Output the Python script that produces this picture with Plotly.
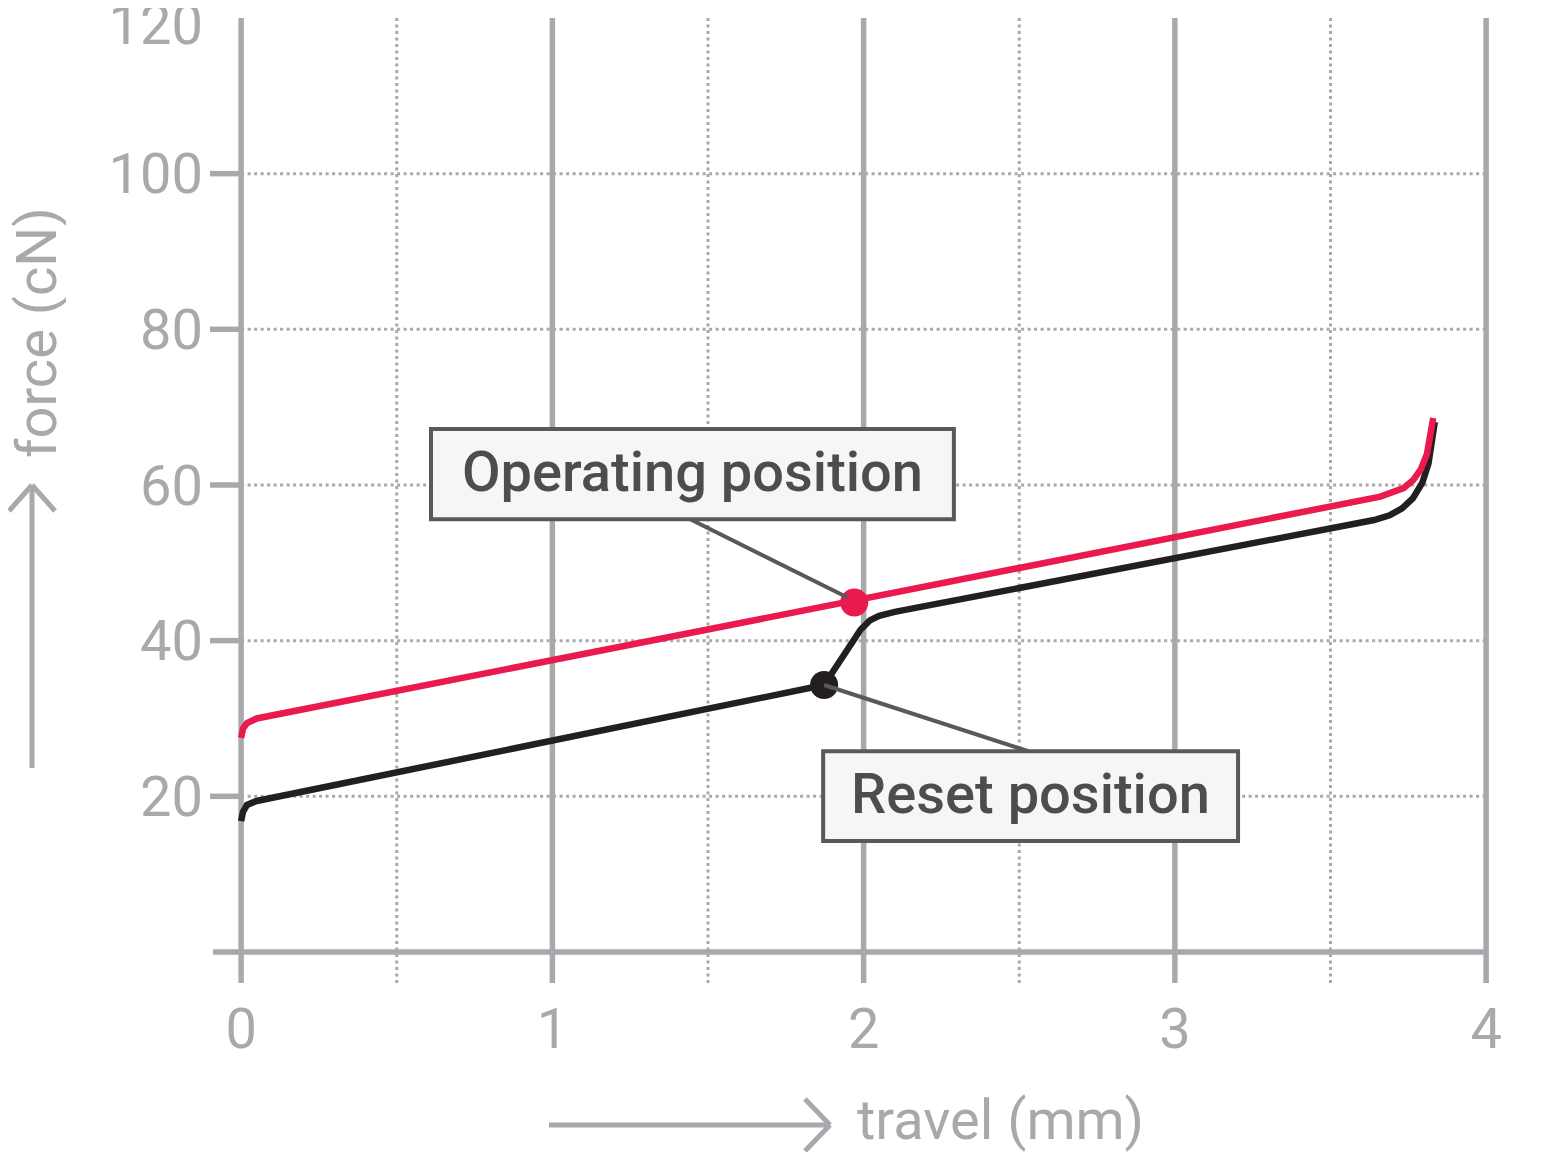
import plotly.graph_objects as go

# ---------------- data ----------------
red_x = [0, 0.006, 0.019, 0.05, 3.66, 3.70, 3.735, 3.765, 3.79, 3.81, 3.822, 3.83]
red_y = [27.5, 28.7, 29.4, 30.0, 58.5, 59.0, 59.6, 60.6, 62.0, 64.0, 66.2, 68.6]

black_x = [0, 0.006, 0.019, 0.05, 1.873, 1.99, 2.02, 2.05, 2.10, 3.64, 3.69, 3.73, 3.765, 3.795, 3.815, 3.828, 3.835]
black_y = [16.8, 18.0, 18.9, 19.4, 34.3, 41.4, 42.6, 43.2, 43.7, 55.5, 56.1, 57.0, 58.3, 60.3, 62.8, 65.6, 68.1]

operating_point = (1.97, 44.9)
reset_point = (1.873, 34.3)

x_major = [0, 1, 2, 3, 4]
x_minor = [0.5, 1.5, 2.5, 3.5]
x_ticktext = ["0", "1", "2", "3", "4"]
y_ticks = [20, 40, 60, 80, 100]
y_ticktext = ["20", "40", "60", "80", "100"]
y_top_tick = [120]
y_top_ticktext = ["120"]
y_grid = [20, 40, 60, 80, 100]

labels = {"op": "Operating position", "reset": "Reset position"}
x_title = "travel (mm)"
y_title = "force (cN)"

# ---------------- styles ----------------
OFF = 8                      # page body margin of the browser
W, H = 1557 - OFF, 1152 - OFF
L, R, T, B = 210 - OFF, 65, 10 - OFF, 165
PXX = 311.25          # px per mm
PXY = 934 / 120       # px per cN
GREY = "#A7A9AC"
RED = "#EA1A4E"
BLACK = "#231F20"
BOX_LINE = "#58595B"
BOX_FILL = "#F6F6F6"
TXT = "#4D4D4F"
FONT = "Roboto"

plot_w = W - L - R
plot_h = H - T - B
x0 = -0.1
xr = [x0, x0 + plot_w / PXX]
y0 = -4.5
yr = [y0, y0 + plot_h / PXY]


def px(xp):
    return (xp - OFF - L) / plot_w


def py(yp):
    return (H - B - (yp - OFF)) / plot_h


fig = go.Figure()

fig.add_trace(go.Scatter(x=black_x, y=black_y, mode="lines",
                         line=dict(color=BLACK, width=6.5), hoverinfo="skip", showlegend=False))
fig.add_trace(go.Scatter(x=red_x, y=red_y, mode="lines",
                         line=dict(color=RED, width=6.5), hoverinfo="skip", showlegend=False))
fig.add_trace(go.Scatter(x=[operating_point[0]], y=[operating_point[1]], mode="markers",
                         marker=dict(color=RED, size=28), hoverinfo="skip", showlegend=False))
fig.add_trace(go.Scatter(x=[reset_point[0]], y=[reset_point[1]], mode="markers",
                         marker=dict(color=BLACK, size=28), hoverinfo="skip", showlegend=False))

shapes = []
y_bottom = -4.0
for xv in x_major:
    shapes.append(dict(type="line", xref="x", yref="y", x0=xv, x1=xv, y0=y_bottom, y1=120,
                       line=dict(color=GREY, width=5.5), layer="below"))
for xv in x_minor:
    shapes.append(dict(type="line", xref="x", yref="y", x0=xv, x1=xv, y0=y_bottom, y1=120,
                       line=dict(color=GREY, width=3, dash="3px,3.5px"), layer="below"))
for yv in y_grid:
    shapes.append(dict(type="line", xref="x", yref="y", x0=0, x1=4, y0=yv, y1=yv,
                       line=dict(color=GREY, width=3, dash="3px,3.5px"), layer="below"))
    shapes.append(dict(type="line", xref="x", yref="y", x0=-0.1, x1=0, y0=yv, y1=yv,
                       line=dict(color=GREY, width=5.5), layer="below"))
shapes.append(dict(type="line", xref="x", yref="y", x0=-0.09, x1=4, y0=0, y1=0,
                   line=dict(color=GREY, width=5.5), layer="below"))

op_box = dict(x0=0.61, x1=2.29, y0=55.6, y1=67.2)
rs_box = dict(x0=1.87, x1=3.203, y0=14.26, y1=25.8)
shapes.append(dict(type="line", xref="x", yref="y", x0=1.443, y0=op_box["y0"],
                   x1=operating_point[0] - 0.02, y1=operating_point[1] + 0.6,
                   line=dict(color=BOX_LINE, width=4), layer="above"))
shapes.append(dict(type="line", xref="x", yref="y", x0=2.529, y0=rs_box["y1"],
                   x1=reset_point[0], y1=reset_point[1],
                   line=dict(color=BOX_LINE, width=4), layer="above"))
for bx in (op_box, rs_box):
    shapes.append(dict(type="rect", xref="x", yref="y", **bx,
                       fillcolor=BOX_FILL, line=dict(color=BOX_LINE, width=4), layer="above"))


def seg(x1p, y1p, x2p, y2p):
    return dict(type="line", xref="paper", yref="paper", x0=px(x1p), y0=py(y1p),
                x1=px(x2p), y1=py(y2p), line=dict(color=GREY, width=5), layer="above")


shapes += [seg(32, 768, 32, 487), seg(32, 485, 9, 511), seg(32, 485, 55, 511)]
shapes += [seg(549, 1125, 828, 1125), seg(830, 1125, 805, 1099), seg(830, 1125, 805, 1151)]

annotations = [
    dict(x=(op_box["x0"] + op_box["x1"]) / 2, y=(op_box["y0"] + op_box["y1"]) / 2 + 0.3,
         xref="x", yref="y", text=labels["op"], showarrow=False,
         font=dict(family=FONT, size=56, color=TXT, weight=500)),
    dict(x=(rs_box["x0"] + rs_box["x1"]) / 2, y=(rs_box["y0"] + rs_box["y1"]) / 2 + 0.3,
         xref="x", yref="y", text=labels["reset"], showarrow=False,
         font=dict(family=FONT, size=56, color=TXT, weight=500)),
    dict(x=px(37), y=py(333), xref="paper", yref="paper", text=y_title, textangle=-90,
         showarrow=False, xanchor="center", yanchor="middle", height=58, borderpad=0,
         font=dict(family=FONT, size=56, color=GREY)),
    dict(x=px(855), y=py(1120), xref="paper", yref="paper", text=x_title,
         showarrow=False, xanchor="left", yanchor="middle",
         font=dict(family=FONT, size=56, color=GREY)),
]

tickfont = dict(family=FONT, size=56, color=GREY)
fig.update_layout(
    width=W, height=H,
    margin=dict(l=L, r=R, t=T, b=B, pad=0, autoexpand=False),
    plot_bgcolor="white", paper_bgcolor="white",
    shapes=shapes, annotations=annotations,
    xaxis=dict(range=xr, tickvals=x_major, ticktext=x_ticktext, showgrid=False, zeroline=False,
               showline=False, ticks="", ticklabelstandoff=4, automargin=False,
               ticklabeloverflow="allow", tickfont=tickfont),
    yaxis=dict(range=yr, tickvals=y_ticks, ticktext=y_ticktext, showgrid=False, zeroline=False,
               showline=False, ticks="", ticklabelstandoff=6, automargin=False,
               ticklabeloverflow="allow", tickfont=tickfont),
    yaxis2=dict(range=yr, tickvals=y_top_tick, ticktext=y_top_ticktext, overlaying="y",
                side="left", showgrid=False, zeroline=False, showline=False, ticks="",
                ticklabelstandoff=6, ticklabelshift=6, automargin=False,
                ticklabeloverflow="allow", tickfont=tickfont),
)
# invisible trace so the second y axis is drawn
fig.add_trace(go.Scatter(x=[None], y=[None], yaxis="y2", showlegend=False, hoverinfo="skip"))

fig.write_html("out.html")
